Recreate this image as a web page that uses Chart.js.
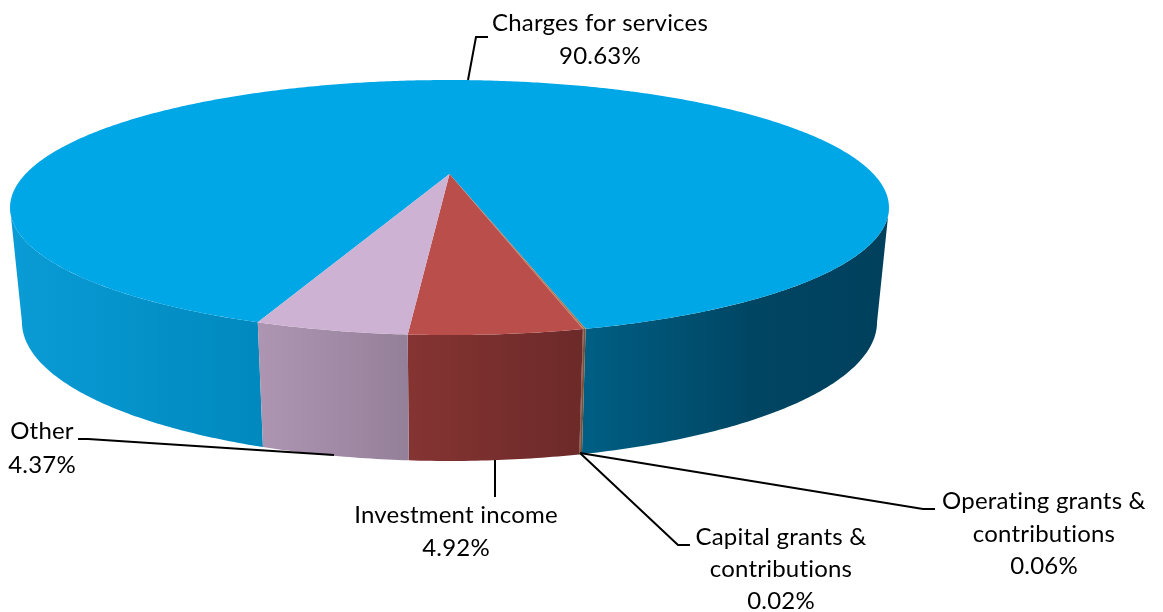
<!DOCTYPE html>
<html>
<head>
<meta charset="utf-8">
<title>Revenue sources</title>
<script src="https://cdn.jsdelivr.net/npm/chart.js@4"></script>
<style>
  html, body { margin: 0; padding: 0; background: #fff; }
  canvas { display: block; }
</style>
</head>
<body>
<canvas id="chart" width="1163" height="612"></canvas>
<script>
// data, in drawing order (clockwise from the left edge of "Charges")
const categories = ['Charges for services', 'Operating grants & contributions', 'Capital grants & contributions', 'Investment income', 'Other'];
const shares = [90.63, 0.06, 0.02, 4.92, 4.37];

// colours
const topColors = ['#00A7E6', '#A8744C', '#B5604A', '#B94E4A', '#CDB2D3'];
const wallStops = [
  [[0, '#0A9CD6'], [0.28, '#0089BE'], [0.65, '#005F85'], [0.85, '#004562'], [1, '#00405D']],
  [[0, '#76533A'], [1, '#76533A']],
  [[0, '#6F3A30'], [1, '#6F3A30']],
  [[0.45, '#853432'], [0.65, '#6C2A29']],
  [[0.28, '#AE96B2'], [0.45, '#95809A']]
];

// perspective of the disc: same vanishing factor for top and bottom face
const tilt = 0.263;
const topFace = { cx: 449.5, cy: 174, a: 424, b: 118.7 };
const bottomFace = { cx: 449.5, cy: 285.4, a: 412.5, b: 129.4 };
const wallLeft = 10, wallRight = 889;

// labels and leader lines
const labelFont = '24px Lato, "Open Sans", sans-serif';
const labels = [
  { x: 600, y: [23, 56], text: ['Charges for services', '90.63%'] },
  { x: 1044, y: [501, 534, 566], text: ['Operating grants &', 'contributions', '0.06%'] },
  { x: 781, y: [537, 569, 601], text: ['Capital grants &', 'contributions', '0.02%'] },
  { x: 456, y: [515, 548], text: ['Investment income', '4.92%'] },
  { x: 42, y: [431, 465], text: ['Other', '4.37%'] }
];
const leaders = [
  [[468, 80], [476, 37], [488, 37]],
  [[580, 453], [923, 509], [935, 509]],
  [[580, 453], [678, 545], [690, 545]],
  [[495, 460], [495, 497]],
  [[78, 439], [88, 439], [334, 455]]
];

function project(face, angle) {
  const u = Math.cos(angle), v = Math.sin(angle);
  const w = 1 - tilt * v;
  return [face.cx + face.a * u / w, face.cy + face.b * v / w];
}

function tracePoints(ctx, face, from, to) {
  const steps = Math.max(2, Math.ceil(Math.abs(to - from) / 0.01));
  for (let i = 0; i <= steps; i++) {
    const p = project(face, from + (to - from) * i / steps);
    ctx.lineTo(p[0], p[1]);
  }
}

// only the front of the wall can be seen, between the two silhouette angles
function fillWall(ctx, start, end) {
  const edge = Math.asin(tilt);
  for (let k = -1; k <= 1; k++) {
    const from = Math.max(start, edge + k * 2 * Math.PI);
    const to = Math.min(end, Math.PI - edge + k * 2 * Math.PI);
    if (to <= from) continue;
    ctx.beginPath();
    tracePoints(ctx, topFace, from, to);
    tracePoints(ctx, bottomFace, to, from);
    ctx.closePath();
    ctx.fill();
  }
}

const pie3d = {
  id: 'pie3d',
  beforeDatasetDraw(chart) {
    const ctx = chart.ctx;
    const arcs = chart.getDatasetMeta(0).data;
    ctx.save();

    arcs.forEach((arc, i) => {
      const grad = ctx.createLinearGradient(wallLeft, 0, wallRight, 0);
      wallStops[i].forEach(s => grad.addColorStop(s[0], s[1]));
      ctx.fillStyle = grad;
      fillWall(ctx, arc.startAngle, arc.endAngle);
    });

    arcs.forEach((arc, i) => {
      ctx.beginPath();
      ctx.moveTo(topFace.cx, topFace.cy);
      tracePoints(ctx, topFace, arc.startAngle, arc.endAngle);
      ctx.closePath();
      ctx.fillStyle = topColors[i];
      ctx.fill();
    });

    ctx.restore();
    return false;
  },
  afterDraw(chart) {
    const ctx = chart.ctx;
    ctx.save();
    ctx.strokeStyle = '#000';
    ctx.lineWidth = 2;
    leaders.forEach(line => {
      ctx.beginPath();
      line.forEach((p, i) => i ? ctx.lineTo(p[0], p[1]) : ctx.moveTo(p[0], p[1]));
      ctx.stroke();
    });
    ctx.fillStyle = '#000';
    ctx.font = labelFont;
    ctx.letterSpacing = '0.2px'; // also stops the "ti" ligature
    ctx.textAlign = 'center';
    ctx.textBaseline = 'middle';
    labels.forEach(l => l.text.forEach((t, i) => ctx.fillText(t, l.x, l.y[i])));
    ctx.restore();
  }
};

new Chart('chart', {
  type: 'pie',
  data: {
    labels: categories,
    datasets: [{ data: shares, backgroundColor: topColors, borderWidth: 0 }]
  },
  options: {
    responsive: false,
    animation: false,
    rotation: 199.9,
    plugins: { legend: { display: false }, tooltip: { enabled: false } }
  },
  plugins: [pie3d]
});
</script>
</body>
</html>
